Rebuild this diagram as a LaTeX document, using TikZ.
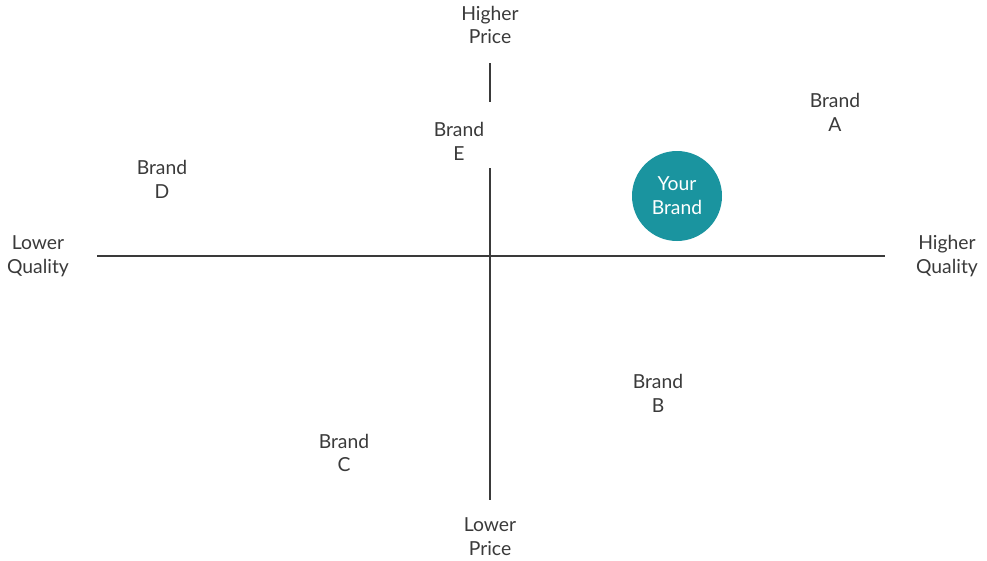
\documentclass[tikz,border=0pt]{standalone}
\usepackage{fontspec}
\setmainfont{Lato}
\usetikzlibrary{positioning}
\definecolor{teal1}{HTML}{1A949F}
\definecolor{ink}{HTML}{3A3A3A}
\begin{document}
\begin{tikzpicture}[x=0.02cm,y=-0.02cm]
    \tikzset{lbl/.style = {align=center,text=ink,font=\fontsize{11}{13.6}\selectfont\addfontfeature{Scale=1}}}
    \tikzset{axis/.style = {draw=ink,line width=0.9pt}}
    \useasboundingbox (0,0) rectangle (987,561);
    % axis ends
    \coordinate (l) at (97,256);
    \coordinate (r) at (885,256);
    \coordinate (t) at (490,63);
    \coordinate (tg) at (490,102);
    \coordinate (bg) at (490,168);
    \coordinate (b) at (490,500);
    % labels
    \node[lbl] (hp) at (490,25) {Higher\\Price};
    \node[lbl] (lp) at (490,537) {Lower\\Price};
    \node[lbl] (lq) at (38,256) {Lower\\Quality};
    \node[lbl] (hq) at (947,256) {Higher\\Quality};
    \node[lbl] (a) at (835,112) {Brand\\A};
    \node[lbl] (d) at (162,179) {Brand\\D};
    \node[lbl] (e) at (459,141) {Brand\\E};
    \node[lbl] (bb) at (658,393) {Brand\\B};
    \node[lbl] (c) at (344,453) {Brand\\C};
    \node[lbl,circle,fill=teal1,text=white,minimum size=90*0.02cm,inner sep=0pt] (you) at (677,196) {Your\\Brand};
    % axes
    \draw[axis] (l) -- (r);
    \draw[axis] (t) -- (tg);
    \draw[axis] (bg) -- (b);
\end{tikzpicture}
\end{document}
